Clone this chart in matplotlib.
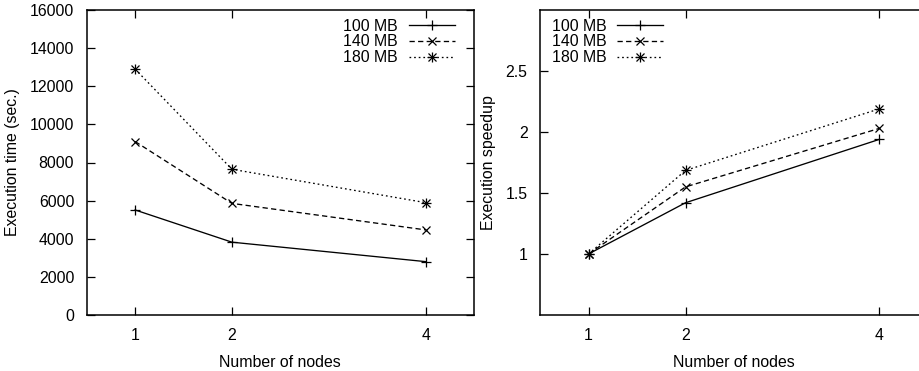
import matplotlib
matplotlib.use("Agg")
import matplotlib.pyplot as plt
from matplotlib.legend_handler import HandlerTuple

# Measurements
nodes = [1, 2, 4]
sizes = ["100 MB", "140 MB", "180 MB"]
time_100 = [5510, 3820, 2800]
time_140 = [9100, 5855, 4465]
time_180 = [12900, 7645, 5895]
speedup_100 = [1.0, 1.42, 1.94]
speedup_140 = [1.0, 1.55, 2.03]
speedup_180 = [1.0, 1.685, 2.19]

time_ticks = list(range(0, 16001, 2000))
speedup_ticks = [1, 1.5, 2, 2.5]
speedup_ticklabels = ["1", "1.5", "2", "2.5"]

FS = 11.4
plt.rcParams["font.family"] = ["Liberation Sans", "DejaVu Sans"]
plt.rcParams["font.size"] = FS

fig = plt.figure(figsize=(9.2, 3.71), dpi=100)
W, H = 920.0, 371.0
ax1 = fig.add_axes([86.7 / W, 56 / H, 387.3 / W, 305 / H])
ax2 = fig.add_axes([540 / W, 56 / H, 388 / W, 305 / H])

dash_styles = [None, (4, 2.5), (1.3, 2.2)]
lw = 0.95
ms = 7.5


def draw(ax, series):
    handles = []
    for i, (ys, dashes) in enumerate(zip(series, dash_styles)):
        kw = dict(color="black", lw=lw, mew=0.9)
        if dashes:
            kw["dashes"] = dashes
        if i == 0:
            h, = ax.plot(nodes, ys, marker="+", ms=ms, **kw)
            handles.append(h)
        elif i == 1:
            h, = ax.plot(nodes, ys, marker="x", ms=ms - 1.5, **kw)
            handles.append(h)
        else:
            h, = ax.plot(nodes, ys, marker="+", ms=ms, **kw)
            h2, = ax.plot(nodes, ys, marker="x", ls="none", color="black",
                          mew=0.9, ms=ms - 2)
            handles.append((h, h2))
    return handles


def style_axes(ax):
    ax.set_xlim(0.5, 4.5)
    ax.set_xticks(nodes)
    ax.set_xticklabels([str(n) for n in nodes])
    ax.tick_params(direction="in", length=6, width=0.9, top=True, right=True,
                   labelsize=FS, pad=9, colors="black")
    for s in ax.spines.values():
        s.set_linewidth(1.1)
        s.set_color("black")
    ax.set_xlabel("Number of nodes", fontsize=FS, labelpad=9)


legend_kw = dict(frameon=False, markerfirst=False, handlelength=2.9,
                 handletextpad=0.7, labelspacing=0.05, borderpad=0,
                 borderaxespad=0, numpoints=1, fontsize=FS,
                 handler_map={tuple: HandlerTuple(ndivide=1)})

h1 = draw(ax1, [time_100, time_140, time_180])
style_axes(ax1)
ax1.set_ylim(0, 16000)
ax1.set_yticks(time_ticks)
ax1.set_ylabel("Execution time (sec.)", fontsize=FS, labelpad=7)
ax1.legend(h1, sizes, loc="upper right", bbox_to_anchor=(0.951, 0.972),
           **legend_kw)

h2 = draw(ax2, [speedup_100, speedup_140, speedup_180])
style_axes(ax2)
ax2.spines["right"].set_visible(False)
ax2.tick_params(right=False)
ax2.set_ylim(0.5, 3.0)
ax2.set_yticks(speedup_ticks)
ax2.set_yticklabels(speedup_ticklabels)
ax2.set_ylabel("Execution speedup", fontsize=FS, labelpad=7)
ax2.legend(h2, sizes, loc="upper left", bbox_to_anchor=(0.03, 0.972),
           **legend_kw)

fig.savefig("out.png", dpi=100)
